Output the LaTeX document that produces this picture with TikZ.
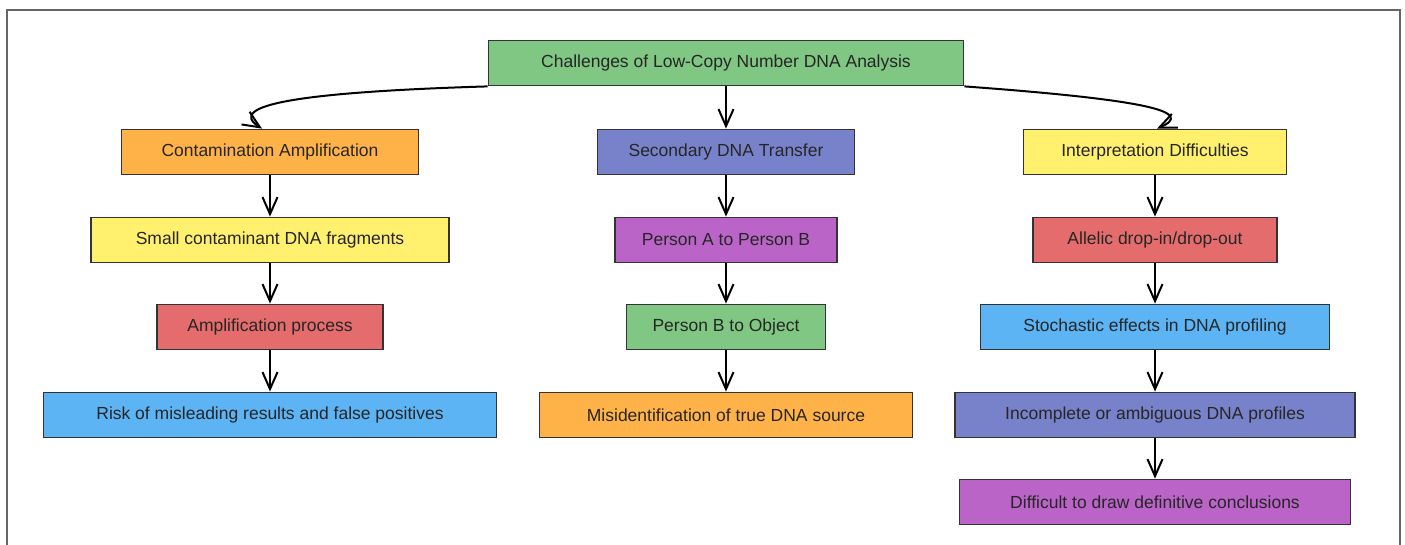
\documentclass[tikz,border=0pt]{standalone}
\usepackage{fontspec}
\setmainfont{Liberation Sans}
\usetikzlibrary{arrows.meta}
\definecolor{cgreen}{RGB}{128,199,132}
\definecolor{corange}{RGB}{255,178,72}
\definecolor{cviolet}{RGB}{120,130,202}
\definecolor{cyellow}{RGB}{255,240,110}
\definecolor{cred}{RGB}{228,108,108}
\definecolor{cpurple}{RGB}{186,100,200}
\definecolor{cblue}{RGB}{92,180,245}
\tikzset{
  box/.style={draw=black!80, line width=1.8pt, minimum height=45pt, inner sep=0pt,
    font=\fontsize{17.5}{20}\selectfont, text=black!85},
  link/.style={draw=black, line width=2pt, -{Straight Barb[length=17pt,width=15pt,line width=2pt]}}
}
\begin{document}
\begin{tikzpicture}[x=1pt,y=-1pt]
      \useasboundingbox (0,0) rectangle (1405,545);
      \draw[black!60, line width=1.2pt] (7,560) -- (7,10) -- (1400,10) -- (1400,560);
      % top
      \node[box, fill=cgreen, minimum width=475pt] (root) at (726,63) {Challenges of Low-Copy Number DNA Analysis};
      % left column
      \node[box, fill=corange, minimum width=297pt] (contam) at (270,152) {Contamination Amplification};
      \node[box, fill=cyellow, minimum width=358pt] (frag) at (270,240) {Small contaminant DNA fragments};
      \node[box, fill=cred, minimum width=226pt] (ampl) at (270,327) {Amplification process};
      \node[box, fill=cblue, minimum width=453pt] (risk) at (270,415) {Risk of misleading results and false positives};
      % middle column
      \node[box, fill=cviolet, minimum width=257pt] (transfer) at (726,152) {Secondary DNA Transfer};
      \node[box, fill=cpurple, minimum width=222pt] (atob) at (726,240) {Person A to Person B};
      \node[box, fill=cgreen, minimum width=199pt] (btoobj) at (726,327) {Person B to Object};
      \node[box, fill=corange, minimum width=373pt] (misid) at (726,415) {Misidentification of true DNA source};
      % right column
      \node[box, fill=cyellow, minimum width=263pt] (interp) at (1155,152) {Interpretation Difficulties};
      \node[box, fill=cred, minimum width=244pt] (allelic) at (1155,240) {Allelic drop-in/drop-out};
      \node[box, fill=cblue, minimum width=349pt] (stoch) at (1155,327) {Stochastic effects in DNA profiling};
      \node[box, fill=cviolet, minimum width=400pt] (incompl) at (1155,415) {Incomplete or ambiguous DNA profiles};
      \node[box, fill=cpurple, minimum width=391pt] (concl) at (1155,502) {Difficult to draw definitive conclusions};
      % connectors
      \draw[link] (root.south west) .. controls (300,92) and (225,105) .. ([xshift=-8pt]contam.north);
      \draw[link] (root.south) -- (transfer.north);
      \draw[link] (root.south east) .. controls (1150,100) and (1195,112) .. ([xshift=2pt]interp.north);
      \draw[link] (contam) -- (frag);
      \draw[link] (frag) -- (ampl);
      \draw[link] (ampl) -- (risk);
      \draw[link] (transfer) -- (atob);
      \draw[link] (atob) -- (btoobj);
      \draw[link] (btoobj) -- (misid);
      \draw[link] (interp) -- (allelic);
      \draw[link] (allelic) -- (stoch);
      \draw[link] (stoch) -- (incompl);
      \draw[link] (incompl) -- (concl);
    \end{tikzpicture}
\end{document}
